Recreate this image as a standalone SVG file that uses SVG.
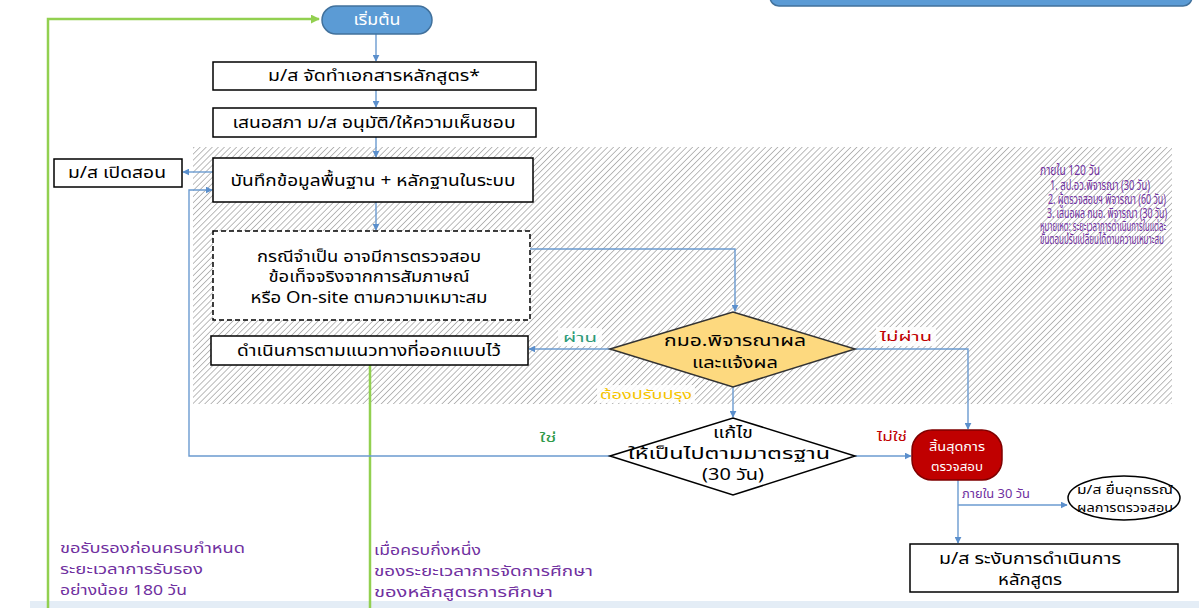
<svg xmlns="http://www.w3.org/2000/svg" width="1199" height="608" viewBox="0 0 1199 608">
<style>
.bx{fill:#fff;stroke:#000;stroke-width:1.5}
.t{font-family:"Noto Sans","Noto Sans Thai","DejaVu Sans",sans-serif;font-size:16px;fill:#000;text-anchor:middle}
.c{fill:none;stroke:#6b9bd0;stroke-width:1.4}
.g{fill:none;stroke:#92d050;stroke-width:2.5}
.p{font-family:"Noto Sans","Noto Sans Thai","DejaVu Sans",sans-serif;font-size:14px;fill:#7030a0}
.s{font-family:"Noto Sans","Noto Sans Thai","DejaVu Sans",sans-serif;font-size:13px}
</style>
<defs>
<pattern id="hatch" width="4.3" height="4.3" patternUnits="userSpaceOnUse" patternTransform="rotate(45)">
<line x1="0" y1="0" x2="0" y2="4.3" stroke="#9e9e9e" stroke-width="1.4"/>
</pattern>
<marker id="ab" viewBox="0 0 10 10" refX="9" refY="5" markerWidth="7" markerHeight="7" orient="auto" markerUnits="userSpaceOnUse">
<path d="M0,0 L10,5 L0,10 z" fill="#5b8fcc"/>
</marker>
<marker id="ag" viewBox="0 0 10 10" refX="9" refY="5" markerWidth="9" markerHeight="9" orient="auto" markerUnits="userSpaceOnUse">
<path d="M0,0 L10,5 L0,10 z" fill="#92d050"/>
</marker>
</defs>
<rect width="1199" height="608" fill="#fff"/>
<rect x="193" y="147" width="979" height="257" fill="url(#hatch)"/>
<rect x="30" y="601" width="1169" height="7" fill="#e4edf6"/>
<rect x="770" y="-20" width="422" height="26" rx="9" fill="#5b9bd5" stroke="#41719c" stroke-width="1.5"/>

<g id="connectors">
<path class="g" d="M48,608 V19 H319" marker-end="url(#ag)"/>
<path class="g" d="M370,365 V608"/>
<path class="c" d="M376,34 V61" marker-end="url(#ab)"/>
<path class="c" d="M376,90 V107" marker-end="url(#ab)"/>
<path class="c" d="M376,137 V157" marker-end="url(#ab)"/>
<path class="c" d="M213,172 H183" marker-end="url(#ab)"/>
<path class="c" d="M612,456 H189 V190 H212" marker-end="url(#ab)"/>
<path class="c" d="M376,202 V230" marker-end="url(#ab)"/>
<path class="c" d="M530,249 H735 V311" marker-end="url(#ab)"/>
<path class="c" d="M610,349 H529" marker-end="url(#ab)"/>
<path class="c" d="M855,349 H968 V429" marker-end="url(#ab)"/>
<path class="c" d="M733,387 V417" marker-end="url(#ab)"/>
<path class="c" d="M855,456 H911" marker-end="url(#ab)"/>
<path class="c" d="M958,480 V543" marker-end="url(#ab)"/>
<path class="c" d="M958,505 H1067" marker-end="url(#ab)"/>
<rect x="558" y="328" width="44" height="18" fill="#fff" opacity="0.85"/>
<text class="s" x="580" y="342" text-anchor="middle" fill="#2e9a78" textLength="34" lengthAdjust="spacingAndGlyphs">ผ่าน</text>
<rect x="876" y="327" width="60" height="19" fill="#fff" opacity="0.85"/>
<text class="s" x="906" y="341" text-anchor="middle" fill="#c00000" textLength="52" lengthAdjust="spacingAndGlyphs">ไม่ผ่าน</text>
<rect x="597" y="385" width="98" height="18" fill="#fff" opacity="0.85"/>
<text class="s" x="646" y="399" text-anchor="middle" fill="#f5c400" textLength="92" lengthAdjust="spacingAndGlyphs">ต้องปรับปรุง</text>
<text class="s" x="548" y="442" text-anchor="middle" fill="#2e9a4a" textLength="17" lengthAdjust="spacingAndGlyphs">ใช่</text>
<text class="s" x="892" y="441" text-anchor="middle" fill="#c00000" textLength="30" lengthAdjust="spacingAndGlyphs">ไม่ใช่</text>
<text class="s" x="962" y="498" fill="#7030a0" font-size="12" textLength="68" lengthAdjust="spacingAndGlyphs">ภายใน 30 วัน</text>
</g>

<g id="start">
<rect x="322" y="6" width="110" height="28" rx="14" fill="#5b9bd5" stroke="#41719c" stroke-width="1.5"/>
<text class="t" x="377" y="25" style="fill:#fff;font-size:15px" textLength="47" lengthAdjust="spacingAndGlyphs">เริ่มต้น</text>
</g>
<g id="n1">
<rect class="bx" x="213" y="62" width="323" height="28"/>
<text class="t" x="374" y="81" textLength="212" lengthAdjust="spacingAndGlyphs">ม/ส จัดทำเอกสารหลักสูตร*</text>
</g>
<g id="n2">
<rect class="bx" x="213" y="108" width="323" height="29"/>
<text class="t" x="374" y="128" textLength="283" lengthAdjust="spacingAndGlyphs">เสนอสภา ม/ส อนุมัติ/ให้ความเห็นชอบ</text>
</g>
<g id="n3">
<rect class="bx" x="213" y="158" width="320" height="44"/>
<text class="t" x="373" y="186" textLength="285" lengthAdjust="spacingAndGlyphs">บันทึกข้อมูลพื้นฐาน + หลักฐานในระบบ</text>
</g>
<g id="open">
<rect class="bx" x="54" y="159" width="128" height="28"/>
<text class="t" x="117" y="178" textLength="98" lengthAdjust="spacingAndGlyphs">ม/ส เปิดสอน</text>
</g>
<g id="n4">
<rect x="213" y="231" width="317" height="89" fill="#fff" stroke="#000" stroke-width="1.5" stroke-dasharray="5,3"/>
<text class="t" x="369" y="262" textLength="224" lengthAdjust="spacingAndGlyphs">กรณีจำเป็น อาจมีการตรวจสอบ</text>
<text class="t" x="369" y="282" textLength="201" lengthAdjust="spacingAndGlyphs">ข้อเท็จจริงจากการสัมภาษณ์</text>
<text class="t" x="369" y="303" textLength="237" lengthAdjust="spacingAndGlyphs">หรือ On-site ตามความเหมาะสม</text>
</g>
<g id="d1">
<polygon points="610,349 733,312 855,349 733,387" fill="#fdd97f" stroke="#333" stroke-width="1.5"/>
<text class="t" x="735" y="346" textLength="142" lengthAdjust="spacingAndGlyphs">กมอ.พิจารณาผล</text>
<text class="t" x="735" y="368" textLength="86" lengthAdjust="spacingAndGlyphs">และแจ้งผล</text>
</g>
<g id="n5">
<rect class="bx" x="211" y="336" width="317" height="29"/>
<text class="t" x="369" y="356" textLength="264" lengthAdjust="spacingAndGlyphs">ดำเนินการตามแนวทางที่ออกแบบไว้</text>
</g>
<g id="d2">
<polygon points="610,456 733,418 855,456 733,495" fill="#fff" stroke="#000" stroke-width="1.5"/>
<text class="t" x="733" y="438" textLength="40" lengthAdjust="spacingAndGlyphs">แก้ไข</text>
<text class="t" x="729" y="459" textLength="202" lengthAdjust="spacingAndGlyphs">ให้เป็นไปตามมาตรฐาน</text>
<text class="t" x="733" y="480" textLength="62" lengthAdjust="spacingAndGlyphs">(30 วัน)</text>
</g>
<g id="end">
<rect x="912" y="430" width="90" height="50" rx="20" fill="#c00000" stroke="#7f0000" stroke-width="1.5"/>
<text class="t" x="957" y="451" style="fill:#fff;font-size:13px" textLength="56" lengthAdjust="spacingAndGlyphs">สิ้นสุดการ</text>
<text class="t" x="957" y="471" style="fill:#fff;font-size:13px" textLength="52" lengthAdjust="spacingAndGlyphs">ตรวจสอบ</text>
</g>
<g id="appeal">
<ellipse cx="1124" cy="498" rx="56" ry="22" fill="#fff" stroke="#000" stroke-width="1.5"/>
<text class="t" x="1125" y="494" style="font-size:13px" textLength="96" lengthAdjust="spacingAndGlyphs">ม/ส ยื่นอุทธรณ์</text>
<text class="t" x="1125" y="512" style="font-size:13px" textLength="96" lengthAdjust="spacingAndGlyphs">ผลการตรวจสอบ</text>
</g>
<g id="suspend">
<rect class="bx" x="910" y="544" width="268" height="48"/>
<text class="t" x="1030" y="564" textLength="182" lengthAdjust="spacingAndGlyphs">ม/ส ระงับการดำเนินการ</text>
<text class="t" x="1030" y="585" textLength="64" lengthAdjust="spacingAndGlyphs">หลักสูตร</text>
</g>
<g id="notes">
<text class="p" x="1040" y="175" font-size="12" textLength="60" lengthAdjust="spacingAndGlyphs">ภายใน 120 วัน</text>
<text class="p" x="1050" y="190" font-size="10" textLength="100" lengthAdjust="spacingAndGlyphs">1. สป.อว.พิจารณา (30 วัน)</text>
<text class="p" x="1048" y="204" font-size="10" textLength="118" lengthAdjust="spacingAndGlyphs">2. ผู้ตรวจสอบฯ พิจารณา (60 วัน)</text>
<text class="p" x="1047" y="218" font-size="10" textLength="120" lengthAdjust="spacingAndGlyphs">3. เสนอผล กมอ. พิจารณา (30 วัน)</text>
<text class="p" x="1040" y="231" font-size="8.5" textLength="126" lengthAdjust="spacingAndGlyphs">หมายเหตุ: ระยะเวลาการดำเนินการในแต่ละ</text>
<text class="p" x="1040" y="244" font-size="8.5" textLength="124" lengthAdjust="spacingAndGlyphs">ขั้นตอนปรับเปลี่ยนได้ตามความเหมาะสม</text>
<text class="p" x="60" y="553" textLength="185" lengthAdjust="spacingAndGlyphs">ขอรับรองก่อนครบกำหนด</text>
<text class="p" x="60" y="574" textLength="143" lengthAdjust="spacingAndGlyphs">ระยะเวลาการรับรอง</text>
<text class="p" x="60" y="595" textLength="127" lengthAdjust="spacingAndGlyphs">อย่างน้อย 180 วัน</text>
<text class="p" x="374" y="555" textLength="107" lengthAdjust="spacingAndGlyphs">เมื่อครบกึ่งหนึ่ง</text>
<text class="p" x="374" y="576" textLength="219" lengthAdjust="spacingAndGlyphs">ของระยะเวลาการจัดการศึกษา</text>
<text class="p" x="374" y="597" textLength="179" lengthAdjust="spacingAndGlyphs">ของหลักสูตรการศึกษา</text>
</g>
</svg>
